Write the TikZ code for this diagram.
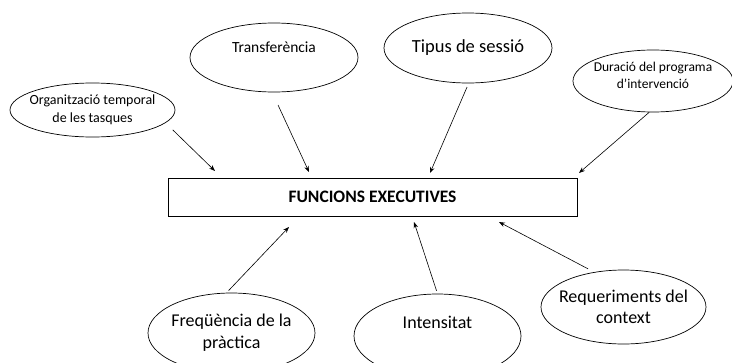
\documentclass[tikz,border=0pt]{standalone}
\usepackage{fontspec}
\setmainfont{Carlito}
\usetikzlibrary{arrows.meta, shapes.geometric}

\begin{document}
\begin{tikzpicture}[x=1pt, y=-1pt,
    oval/.style={ellipse, draw, line width=0.7pt, inner sep=-10pt, align=center},
    arr/.style={-{Stealth[length=6pt, width=4.5pt]}, line width=0.6pt}]
            \useasboundingbox (0,0) rectangle (732,362);
            \node[draw, line width=0.8pt, minimum width=409, minimum height=38] (fe) at (372.5,197)
                {\fontsize{17.5}{20}\selectfont\bfseries FUNCIONS EXECUTIVES};

            % upper row
            \node[oval, minimum width=165, minimum height=54, font=\fontsize{14}{18}\selectfont] (org) at (92.5,110) {Organització temporal\\de les tasques};
            \node[oval, minimum width=168, minimum height=69, text depth=21pt, font=\fontsize{15.5}{19}\selectfont] (trans) at (274,57.5) {Transferència};
            \node[oval, minimum width=168, minimum height=70, font=\fontsize{18.5}{22}\selectfont] (tip) at (468,48) {Tipus de sessió};
            \node[oval, minimum width=160, minimum height=62, text depth=12pt, font=\fontsize{13.5}{17}\selectfont] (dur) at (653,81) {Duració del programa\\d'intervenció};

            % lower row
            \node[oval, minimum width=167, minimum height=80, font=\fontsize{18}{22}\selectfont] (freq) at (231.5,333) {Freqüència de la\\pràctica};
            \node[oval, minimum width=167, minimum height=84, text depth=28pt, font=\fontsize{18}{22}\selectfont] (int) at (437.5,336) {Intensitat};
            \node[oval, minimum width=165, minimum height=74, font=\fontsize{18}{21}\selectfont] (req) at (623.5,307) {Requeriments del\\context};

            \foreach \n/\x/\y in {org/215/171, trans/309/172, tip/430/173, dur/579/173, freq/289/227, int/414/222, req/499/222}
                \coordinate (\n-tip) at (\x,\y);

            \foreach \n/\a/\s in {org/-10/10, trans/-93/14, tip/-89/4, dur/-97/0, freq/97/3, int/90/3, req/130/7}
                \draw[arr, shorten <=\s pt] (\n.\a) -- (\n-tip);
        \end{tikzpicture}
\end{document}
